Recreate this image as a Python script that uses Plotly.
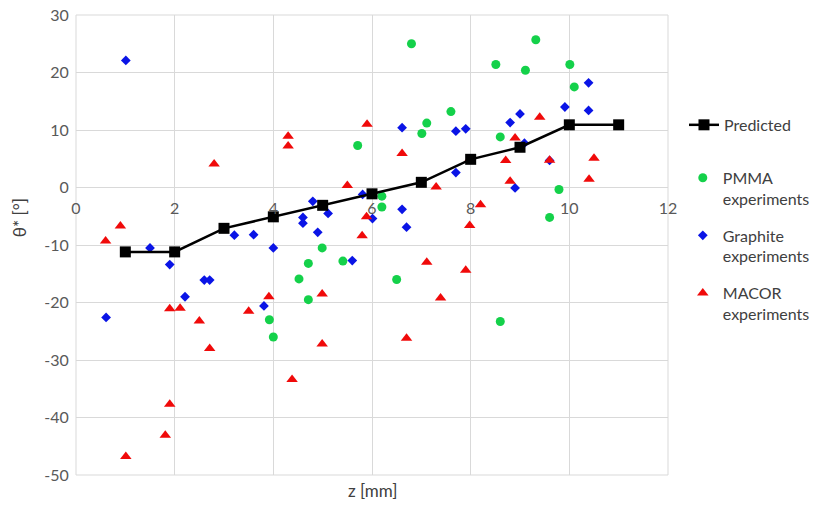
import plotly.graph_objects as go

# Predicted deviation angle along z
pred_z = [1, 2, 3, 4, 5, 6, 7, 8, 9, 10, 11]
pred_theta = [-11.2, -11.2, -7.1, -5.1, -3.1, -1.1, 0.9, 4.9, 7.0, 10.9, 10.9]

# PMMA experiments
pmma_z = [6.80, 7.60, 7.11, 7.01, 5.71, 6.20, 6.20, 4.99, 9.32, 8.51, 9.11, 10.01,
          10.10, 8.60, 9.79, 9.60, 8.60, 4.71, 5.41, 4.52, 4.71, 6.50, 3.92, 4.00]
pmma_theta = [25.0, 13.2, 11.2, 9.4, 7.3, -1.5, -3.4, -10.5, 25.7, 21.4, 20.4, 21.4,
              17.5, 8.8, -0.35, -5.2, -23.3, -13.2, -12.8, -15.9, -19.5, -16.0, -23.0, -26.0]

# Graphite experiments
graphite_z = [1.01, 3.21, 3.60, 1.50, 4.00, 1.90, 2.60, 2.71, 2.21, 3.81, 0.61,
              6.61, 7.70, 7.90, 7.70, 5.81, 4.80, 5.11, 4.60, 4.60, 4.90, 6.01,
              6.61, 6.70, 5.60, 10.39, 9.91, 10.39, 9.00, 8.80, 9.09, 9.60, 8.90]
graphite_theta = [22.1, -8.3, -8.2, -10.5, -10.5, -13.4, -16.1, -16.1, -19.0, -20.6, -22.6,
                  10.4, 9.8, 10.2, 2.6, -1.2, -2.4, -4.5, -5.2, -6.2, -7.8, -5.4,
                  -3.8, -6.9, -12.7, 18.2, 14.0, 13.4, 12.8, 11.3, 7.7, 4.7, -0.07]

# MACOR experiments
macor_z = [2.80, 0.90, 0.60, 1.90, 2.11, 2.50, 2.71, 3.50, 3.91, 1.90, 1.81, 1.01,
           4.30, 4.30, 5.90, 6.61, 5.50, 7.30, 7.98, 5.89, 5.80, 7.98,
           9.40, 8.90, 8.71, 9.60, 10.50, 8.80, 10.40, 8.20,
           7.11, 7.90, 4.99, 7.39, 4.99, 6.70, 4.38]
macor_theta = [4.1, -6.7, -9.3, -21.1, -21.0, -23.2, -28.0, -21.5, -19.0, -37.7, -43.1, -46.8,
               8.9, 7.2, 11.0, 5.9, 0.35, 0.1, 4.9, -5.1, -8.4, -6.6,
               12.2, 8.6, 4.7, 4.75, 5.1, 1.1, 1.45, -3.0,
               -13.0, -14.4, -18.5, -19.2, -27.2, -26.2, -33.4]

x_ticks = [0, 2, 4, 6, 8, 10, 12]
y_ticks = [30, 20, 10, 0, -10, -20, -30, -40, -50]

FONT = "Lato"
TEXT = "#595959"
GRID = "#D9D9D9"

fig = go.Figure()

fig.add_trace(go.Scatter(
    x=pmma_z, y=pmma_theta, mode="markers", name="PMMA<br>experiments",
    marker=dict(symbol="circle", size=9, color="#14D14A", line=dict(width=0)),
    legend="legend2", legendgroup="pmma"))
fig.add_trace(go.Scatter(
    x=graphite_z, y=graphite_theta, mode="markers", name="Graphite<br>experiments",
    marker=dict(symbol="diamond", size=7.5, color="#0A14E6", line=dict(width=0)),
    legend="legend2", legendgroup="graphite"))
fig.add_trace(go.Scatter(
    x=macor_z, y=macor_theta, mode="markers", name="MACOR<br>experiments",
    marker=dict(symbol="triangle-up", size=10, color="#F00A0A", line=dict(width=0)),
    legend="legend2", legendgroup="macor"))
fig.add_trace(go.Scatter(
    x=pred_z, y=pred_theta, mode="lines+markers", name="Predicted",
    line=dict(color="black", width=2.5),
    marker=dict(symbol="square", size=11, color="black", line=dict(width=0)),
    legend="legend", showlegend=True))

fig.update_layout(
    width=813, height=506,
    showlegend=True,
    margin=dict(l=76, r=145, t=15, b=31, autoexpand=False),
    paper_bgcolor="white", plot_bgcolor="white",
    font=dict(family=FONT, size=16, color=TEXT),
    xaxis=dict(
        range=[0, 12], tickvals=x_ticks, ticktext=[str(v) for v in x_ticks],
        showgrid=True, gridcolor=GRID, gridwidth=1, zeroline=False,
        anchor="free", position=0.625, showline=False, automargin=False,
        ticks="outside", ticklen=6, tickcolor="rgba(0,0,0,0)",
        tickfont=dict(family=FONT, size=16, color=TEXT)),
    yaxis=dict(
        range=[-50, 30], tickvals=y_ticks, ticktext=[str(v) for v in y_ticks],
        showgrid=True, gridcolor=GRID, gridwidth=1, zeroline=False, automargin=False,
        showline=False, ticks="outside", ticklen=3, tickcolor="rgba(0,0,0,0)",
        tickfont=dict(family=FONT, size=16, color=TEXT)),
    legend=dict(
        x=1.027, xanchor="left", y=0.798, yanchor="top",
        font=dict(family=FONT, size=16, color="#404040"),
        bgcolor="rgba(0,0,0,0)", itemclick=False),
    legend2=dict(
        x=1.025, xanchor="left", y=0.683, yanchor="top",
        traceorder="grouped", tracegroupgap=13, valign="top",
        font=dict(family=FONT, size=16, color="#404040"),
        bgcolor="rgba(0,0,0,0)", itemclick=False),
    shapes=[dict(type="rect", xref="paper", yref="paper", x0=0, x1=1, y0=0, y1=1,
                 line=dict(color=GRID, width=1), layer="below")],
    annotations=[
        dict(text="z [mm]", xref="paper", yref="paper", x=0.5, y=-0.033,
             xanchor="center", yanchor="middle", showarrow=False,
             font=dict(family=FONT, size=17, color="#404040")),
        dict(text="θ* [°]", xref="paper", yref="paper", x=-0.095, y=0.560,
             xanchor="center", yanchor="middle", showarrow=False, textangle=-90,
             font=dict(family=FONT, size=17, color="#404040")),
    ],
)

fig.write_html("out.html")
